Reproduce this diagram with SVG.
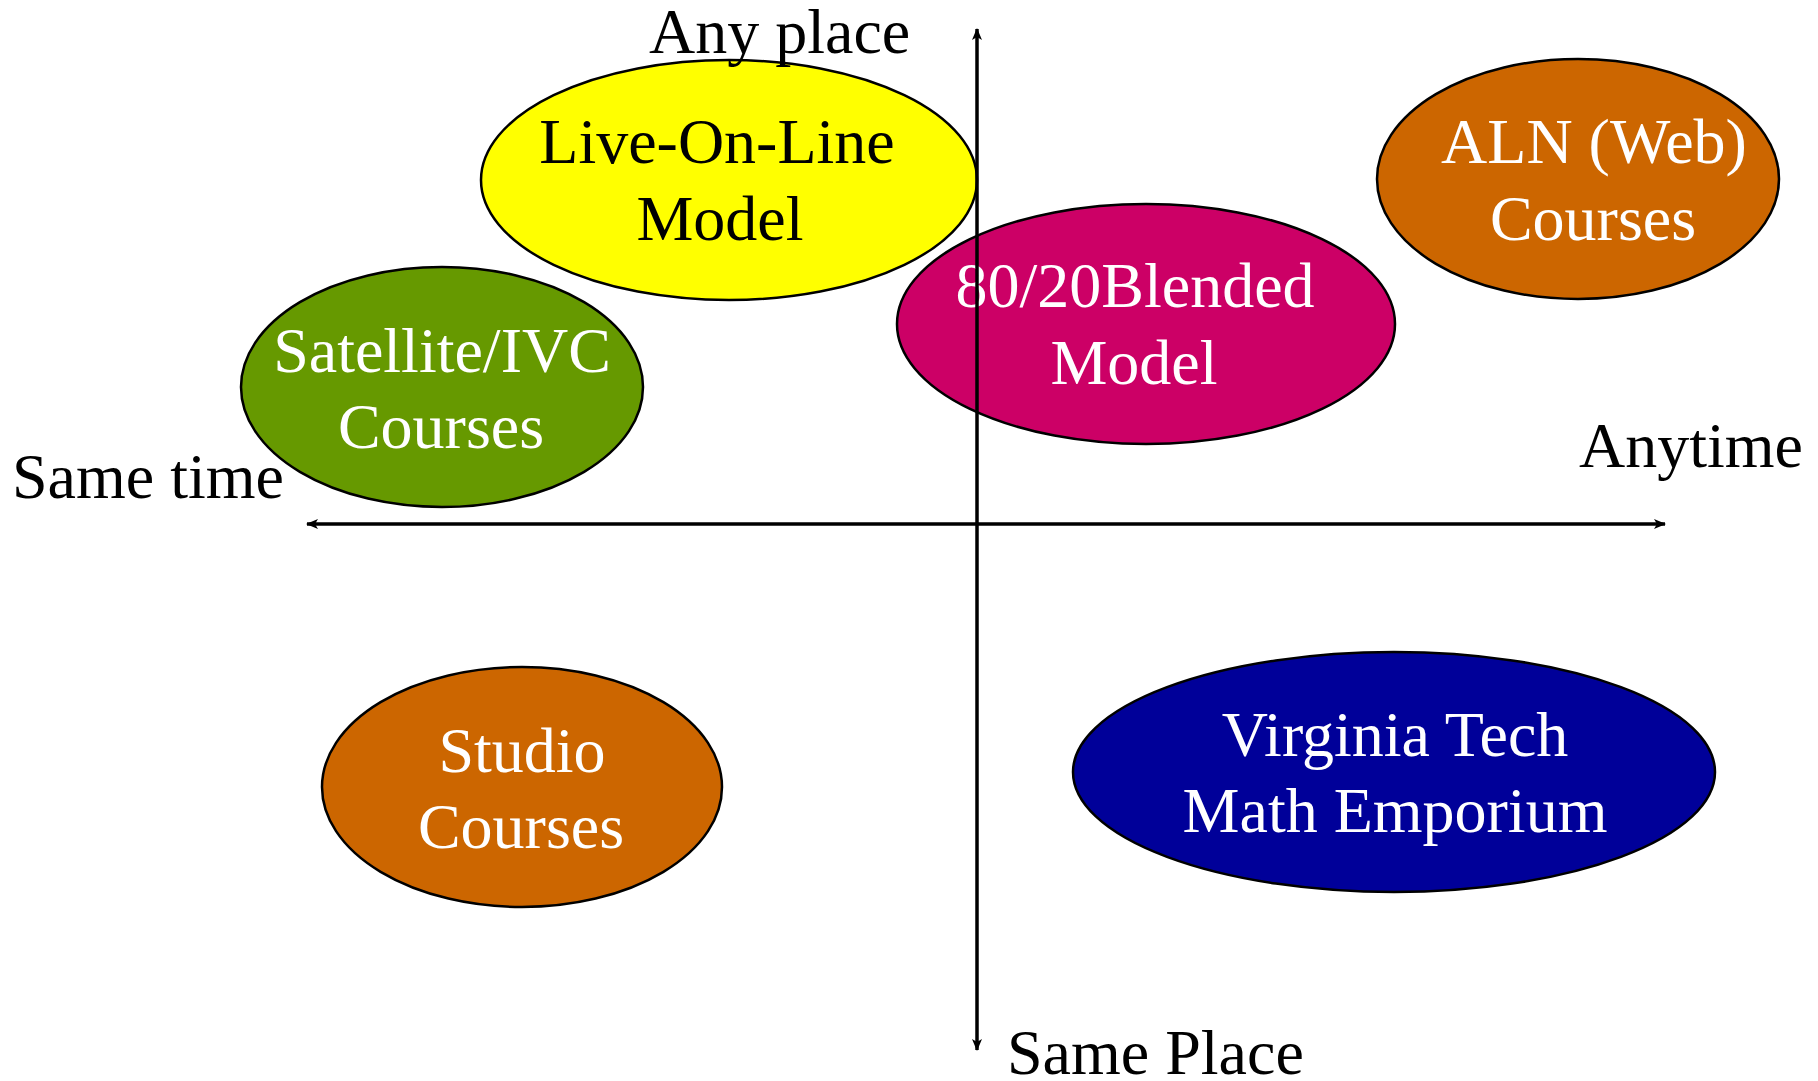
<svg xmlns="http://www.w3.org/2000/svg" width="1818" height="1081" viewBox="0 0 1818 1081">
<style>
text{font-family:"Liberation Serif","Times New Roman",serif;font-size:64px;}
.lbl{text-anchor:middle;fill:#fff;}
.dark{fill:#000;}
.node ellipse{stroke:#000;stroke-width:2.5;}
.axis{stroke:#000;stroke-width:3.5;fill:none;}
</style>
<defs>
<marker id="ah" viewBox="-12 -6 14 12" refX="0" refY="0" markerWidth="14" markerHeight="12" markerUnits="userSpaceOnUse" orient="auto-start-reverse">
<path d="M1,0 L-11,-5 L-8,0 L-11,5 Z" fill="#000"/>
</marker>
</defs>
<rect width="1818" height="1081" fill="#fff"/>
<g id="node-live" class="node">
<ellipse cx="729" cy="180" rx="248" ry="120" fill="#FFFF00"/>
<text class="lbl dark" x="717" y="163">Live-On-Line</text>
<text class="lbl dark" x="720" y="240">Model</text>
</g>
<g id="node-satellite" class="node">
<ellipse cx="442" cy="387" rx="201" ry="120" fill="#669900"/>
<text class="lbl" x="442" y="372">Satellite/IVC</text>
<text class="lbl" x="441" y="448">Courses</text>
</g>
<g id="node-blended" class="node">
<ellipse cx="1146" cy="324" rx="249" ry="120" fill="#CC0066"/>
<text class="lbl" x="1135" y="307">80/20Blended</text>
<text class="lbl" x="1134" y="384">Model</text>
</g>
<g id="node-aln" class="node">
<ellipse cx="1578" cy="179" rx="201" ry="120" fill="#CC6600"/>
<text class="lbl" x="1594" y="163">ALN (Web)</text>
<text class="lbl" x="1593" y="240">Courses</text>
</g>
<g id="node-studio" class="node">
<ellipse cx="522" cy="787" rx="200" ry="120" fill="#CC6600"/>
<text class="lbl" x="522" y="772">Studio</text>
<text class="lbl" x="521" y="848">Courses</text>
</g>
<g id="node-vt" class="node">
<ellipse cx="1394" cy="772" rx="321" ry="120" fill="#000099"/>
<text class="lbl" x="1395" y="756">Virginia Tech</text>
<text class="lbl" x="1395" y="832">Math Emporium</text>
</g>
<g id="connectors">
<line class="axis" x1="977" y1="1050" x2="977" y2="29" marker-start="url(#ah)" marker-end="url(#ah)"/>
<line class="axis" x1="307" y1="524" x2="1665" y2="524" marker-start="url(#ah)" marker-end="url(#ah)"/>
</g>
<g id="axis-labels">
<text x="649" y="53">Any place</text>
<text x="12" y="498">Same time</text>
<text x="1579" y="467">Anytime</text>
<text x="1007" y="1074">Same Place</text>
</g>
</svg>
